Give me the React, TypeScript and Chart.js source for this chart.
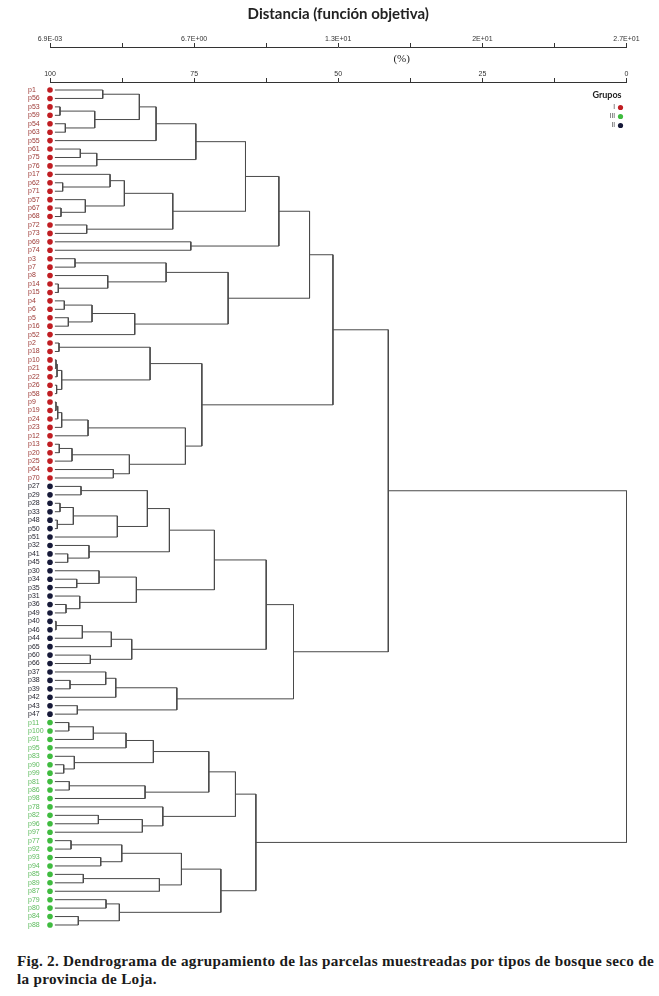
import React, { useEffect, useRef } from "react";
import { Chart, registerables } from "chart.js";

Chart.register(...registerables);

// Leaves in dendrogram order, by group
const GROUP_I = ["p1","p56","p53","p59","p54","p63","p55","p61","p75","p76","p17","p62","p71","p57","p67","p68","p72","p73","p69","p74","p3","p7","p8","p14","p15","p4","p6","p5","p16","p52","p2","p18","p10","p21","p22","p26","p58","p9","p19","p24","p23","p12","p13","p20","p25","p64","p70"];
const GROUP_II = ["p27","p29","p28","p33","p48","p50","p51","p32","p41","p45","p30","p34","p35","p31","p36","p49","p40","p46","p44","p65","p60","p66","p37","p38","p39","p42","p43","p47"];
const GROUP_III = ["p11","p100","p91","p95","p83","p90","p99","p81","p86","p98","p78","p82","p96","p97","p77","p92","p93","p94","p85","p89","p87","p79","p80","p84","p88"];

// Merges: [node id, child A, child B, similarity (%)]
const MERGES_I: [string, string, string, number][] = [
  ["m1","p1","p56",90.85],["m2","p53","p59",98.26],["m3","p54","p63",97.34],["m4","m2","m3",92.24],
  ["m5","m1","m4",84.5],["m6","m5","p55",81.6],["m7","p61","p75",94.74],["m8","m7","p76",91.89],
  ["m9","m6","m8",74.7],["m10","p62","p71",97.8],["m11","p17","m10",89.58],["m12","p67","p68",98.09],
  ["m13","p57","m12",93.87],["m14","m11","m13",87.1],["m15","p72","p73",93.63],["m16","m14","m15",78.7],
  ["m17","m9","m16",66.09],["m18","p69","p74",75.57],["m19","m17","m18",60.3],["m20","p3","p7",95.66],
  ["m21","p14","p15",98.56],["m22","p8","m21",89.98],["m23","m20","m22",79.86],["m24","p4","p6",97.52],
  ["m25","p5","p16",96.82],["m26","m24","m25",92.71],["m27","m26","p52",85.3],["m28","m23","m27",69.1],
  ["m29","m19","m28",54.98],["m30","p2","p18",98.44],["m31","p10","p21",98.96],["m32","m31","p22",98.78],
  ["m33","p26","p58",98.85],["m34","m32","m33",97.97],["m35","m30","m34",82.64],["m36","p9","p19",98.96],
  ["m37","m36","p24",98.66],["m38","m37","p23",97.97],["m39","m38","p12",93.4],["m40","p13","p20",98.39],
  ["m41","m40","p25",96.18],["m42","p64","p70",89.01],["m43","m41","m42",86.23],["m44","m39","m43",76.51],
  ["m45","m35","m44",73.66],["m46","m29","m45",50.92],
];
const MERGES_II: [string, string, string, number][] = [
  ["b1","p27","p29",94.62],["b2","p28","p33",98.26],["b3","p48","p50",98.73],["b4","b2","b3",95.95],
  ["b5","b4","p51",88.32],["b6","b1","b5",83.11],["b7","p41","p45",96.93],["b8","p32","b7",93.23],
  ["b9","b6","b8",79.29],["b10","p34","p35",95.36],["b11","p30","b10",91.49],["b12","p36","p49",97.22],
  ["b13","p31","b12",94.84],["b14","b11","b13",85.02],["b15","b9","b14",71.48],["b16","p40","p46",98.96],
  ["b17","b16","p44",94.39],["b18","b17","p65",89.36],["b19","p60","p66",93.0],["b20","b18","b19",85.82],
  ["b21","b15","b20",62.5],["b22","p38","p39",96.53],["b23","p37","b22",90.33],["b24","b23","p42",88.59],
  ["b25","p43","p47",95.26],["b26","b24","b25",78.0],["b27","b21","b26",57.76],
];
const MERGES_III: [string, string, string, number][] = [
  ["g1","p11","p100",96.75],["g2","g1","p91",92.48],["g3","g2","p95",86.81],["g4","p90","p99",97.62],
  ["g5","p83","g4",95.78],["g6","g3","g5",82.07],["g7","p81","p86",96.65],["g8","g7","p98",83.51],
  ["g9","g6","g8",72.45],["g10","p82","p96",91.61],["g11","g10","p97",83.98],["g12","p78","g11",80.43],
  ["g13","g9","g12",67.83],["g14","p77","p92",96.35],["g15","p93","p94",91.2],["g16","g14","g15",87.55],
  ["g17","p85","p89",94.22],["g18","g17","p87",81.02],["g19","g16","g18",77.2],["g20","p79","p80",90.28],
  ["g21","p84","p88",95.09],["g22","g20","g21",87.97],["g23","g19","g22",70.36],["g24","g13","g23",64.29],
];
const MERGES_ROOT: [string, string, string, number][] = [
  ["r1","m46","b27",41.32],["r0","r1","g24",0],
];

const LEAF_START = 99.15; // where leaf branches begin (%)
const PERCENT_TICK_VALUES = [100, 75, 50, 25, 0];
const PERCENT_TICK_LABELS = ["100", "75", "50", "25", "0"];
const DISTANCE_TICK_LABELS = ["6.9E-03", "6.7E+00", "1.3E+01", "2E+01", "2.7E+01"];
const MINOR_TICK_VALUES = [100, 87.5, 75, 62.5, 50, 37.5, 25, 12.5, 0];

const GROUP_NAMES = ["I", "III", "II"];
const DOT_COLORS: Record<string, string> = { I: "#c01d22", II: "#161938", III: "#3fbb3f" };
const LABEL_COLORS: Record<string, string> = { I: "#9c3834", II: "#1e1e2a", III: "#5dbb5d" };

export default function App() {
  const ref = useRef<HTMLCanvasElement | null>(null);

  useEffect(() => {
    document.body.style.margin = "0";
    const order = [...GROUP_I, ...GROUP_II, ...GROUP_III];
    const groupOf: Record<string, string> = {};
    GROUP_I.forEach((n) => (groupOf[n] = "I"));
    GROUP_II.forEach((n) => (groupOf[n] = "II"));
    GROUP_III.forEach((n) => (groupOf[n] = "III"));

    const pos = new Map<string, { x: number; y: number }>();
    order.forEach((n, i) => pos.set(n, { x: LEAF_START, y: i }));
    const merges = [...MERGES_I, ...MERGES_II, ...MERGES_III, ...MERGES_ROOT];
    const lineSets: any[] = merges.map(([id, a, b, h]) => {
      const A = pos.get(a)!;
      const B = pos.get(b)!;
      pos.set(id, { x: h, y: (A.y + B.y) / 2 });
      return {
        label: id,
        data: [
          { x: A.x, y: A.y },
          { x: h, y: A.y },
          { x: h, y: B.y },
          { x: B.x, y: B.y },
        ],
        showLine: true,
        borderColor: "#4a4a4a",
        borderWidth: 1,
        pointRadius: 0,
        tension: 0,
        clip: false,
        order: 2,
      };
    });

    const dotSets: any[] = GROUP_NAMES.map((g) => ({
      label: g,
      data: order.map((n, i) => (groupOf[n] === g ? { x: 100, y: i } : null)).filter(Boolean),
      backgroundColor: DOT_COLORS[g],
      borderWidth: 0,
      pointRadius: 2.8,
      showLine: false,
      clip: false,
      order: 1,
    }));

    const topAxis = (labels: string[], weight: number, height: number) => ({
      type: "linear",
      position: "top",
      min: 0,
      max: 100,
      reverse: true,
      weight,
      afterBuildTicks: (s: any) => {
        s.ticks = MINOR_TICK_VALUES.map((v) => ({ value: v }));
      },
      afterFit: (s: any) => {
        s.height = height;
      },
      ticks: {
        autoSkip: false,
        maxRotation: 0,
        minRotation: 0,
        padding: 0,
        color: "#333",
        font: { family: "Liberation Sans", size: 7 },
        callback: (v: number) => {
          const k = PERCENT_TICK_VALUES.indexOf(v);
          return k >= 0 ? labels[k] : "";
        },
      },
      grid: { drawOnChartArea: false, drawTicks: true, tickLength: 4, color: "#333" },
      border: { display: true, color: "#333", width: 1 },
    });

    const overlay = {
      id: "overlay",
      afterDraw(chart: any) {
        const { ctx, chartArea } = chart;
        ctx.save();
        ctx.fillStyle = "#222";
        ctx.font = '11px "Liberation Serif"';
        ctx.textAlign = "center";
        ctx.textBaseline = "middle";
        ctx.fillText("(%)", chartArea.left + (chartArea.right - chartArea.left) * 0.61, 59);
        // group legend
        ctx.font = 'bold 9px "Lato"';
        ctx.fillStyle = "#222";
        ctx.fillText("Grupos", 607, 95);
        const ys = [107.5, 116.5, 125.5];
        GROUP_NAMES.forEach((g, i) => {
          ctx.font = '6.5px "Liberation Sans"';
          ctx.textAlign = "right";
          ctx.fillStyle = "#444";
          ctx.fillText(g, 615, ys[i]);
          ctx.beginPath();
          ctx.fillStyle = DOT_COLORS[g];
          ctx.arc(620.5, ys[i], 2.6, 0, Math.PI * 2);
          ctx.fill();
        });
        ctx.restore();
      },
    };

    const chart = new Chart(ref.current!, {
      type: "scatter",
      data: { datasets: [...dotSets, ...lineSets] },
      options: {
        animation: false,
        responsive: true,
        maintainAspectRatio: false,
        layout: { padding: { left: 28, right: 32.5, top: 0, bottom: 7 } },
        plugins: {
          legend: { display: false },
          tooltip: { enabled: false },
          title: {
            display: true,
            text: "Distancia (función objetiva)",
            fullSize: false,
            color: "#222",
            font: { family: "Lato", size: 15, weight: "bold" },
            padding: { top: 5, bottom: 0 },
          },
        },
        scales: {
          x: topAxis(PERCENT_TICK_LABELS, 1, 35) as any,
          xd: topAxis(DISTANCE_TICK_LABELS, 2, 24) as any,
          y: {
            type: "linear",
            position: "left",
            min: -0.95,
            max: 99.95,
            reverse: true,
            afterBuildTicks: (s: any) => {
              s.ticks = order.map((_, i) => ({ value: i }));
            },
            afterFit: (s: any) => {
              s.width = 22;
            },
            ticks: {
              autoSkip: false,
              padding: 0,
              crossAlign: "far",
              font: { family: "Liberation Sans", size: 7 },
              color: (c: any) => LABEL_COLORS[groupOf[order[c.index]]] || "#222",
              callback: (v: number) => order[v] ?? "",
            },
            grid: { display: false },
            border: { display: false },
          } as any,
        },
      },
      plugins: [overlay],
    });
    return () => chart.destroy();
  }, []);

  return (
    <div style={{ position: "relative", width: 659, height: 992 }}>
      <div style={{ position: "absolute", left: 0, top: 0, width: 659, height: 940 }}>
        <canvas ref={ref} />
      </div>
      <div
        style={{
          position: "absolute",
          left: 17,
          top: 952,
          width: 642,
          fontFamily: '"Liberation Serif", serif',
          fontWeight: "bold",
          fontSize: 15.2,
          letterSpacing: 0.28,
          lineHeight: "18px",
          color: "#1a1a1a",
        }}
      >
        Fig. 2. Dendrograma de agrupamiento de las parcelas muestreadas por tipos de bosque seco de la provincia de Loja.
      </div>
    </div>
  );
}
